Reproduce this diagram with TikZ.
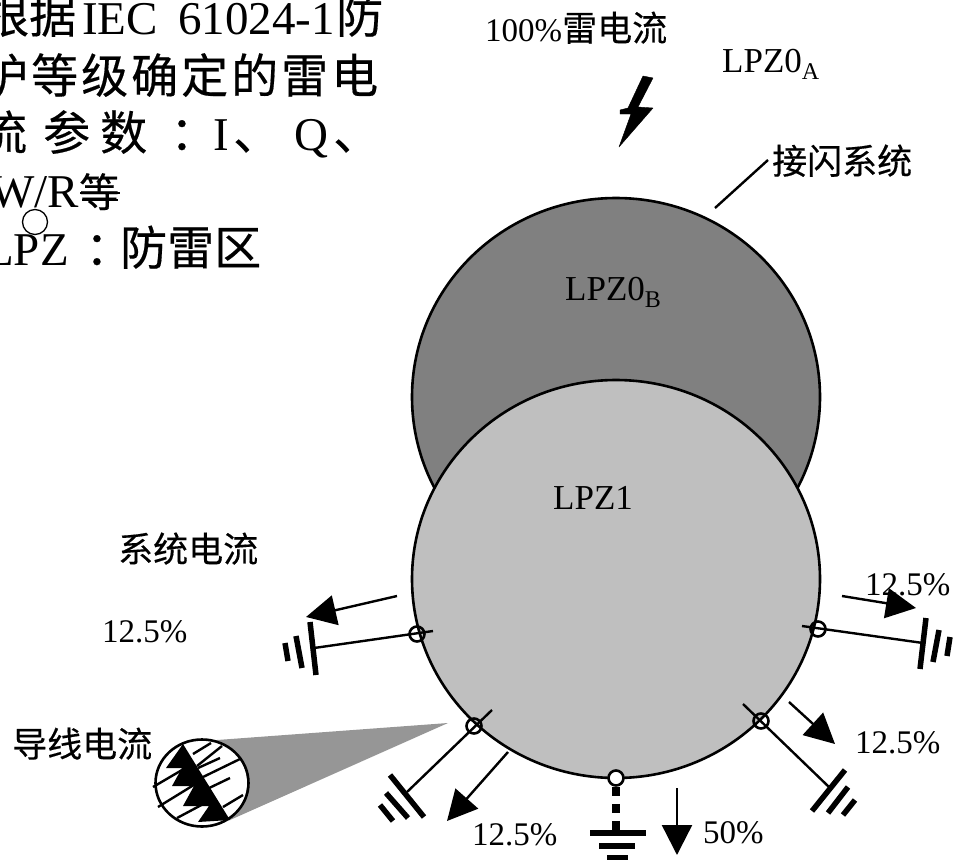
\documentclass[tikz,border=0pt]{standalone}
\usepackage{fontspec}
\setmainfont{Liberation Serif}
\newfontfamily\cjkfont[FakeBold=0.35]{Noto Sans CJK SC}
\usetikzlibrary{arrows.meta,shapes.geometric}
\newcommand{\zonesub}[1]{\raisebox{-7pt}{\fontsize{24}{24}\selectfont #1}}
\tikzset{
	bigtext/.style={anchor=base west,inner sep=0pt,font=\fontsize{47}{50}\selectfont},
	smalltext/.style={anchor=base west,inner sep=0pt,font=\fontsize{33}{36}\selectfont},
	zonetext/.style={anchor=base west,inner sep=0pt,font=\fontsize{35}{38}\selectfont},
	hantext/.style={anchor=base west,inner sep=0pt,font=\fontsize{35}{38}\selectfont\cjkfont},
	zone/.style={draw,line width=2.6pt,ellipse,minimum width=408pt,minimum height=398pt,inner sep=0pt},
	current/.style={line width=2.4pt,-{Triangle[length=30pt,width=30pt]}},
	lead/.style={line width=2.4pt},
	plate/.style={line width=5.5pt},
	hatch/.style={line width=2.4pt},
	contact/.style={circle,draw,line width=2.6pt,minimum size=15pt,inner sep=0pt}
}
\begin{document}
\begin{tikzpicture}[x=1pt,y=-1pt]
	\useasboundingbox (0,0) rectangle (954,860);
	\clip (0,0) rectangle (954,860);

	% notes at the top left
	\node[bigtext] (noteA) at (-18,33) {\cjkfont 根据};
	\node[bigtext] (noteB) at (82,34) {IEC};
	\node[bigtext] (noteC) at (178,34) {61024-1};
	\node[bigtext] (noteD) at (336,33) {\cjkfont 防};
	\foreach \c [count=\i] in {护,等,级,确,定,的,雷,电}
		\node[bigtext] (line\i) at (-69+50*\i,93) {\cjkfont\c};
	\node[bigtext] (noteE) at (-20,150) {\cjkfont 流};
	\node[bigtext] (noteF) at (43,150) {\cjkfont 参};
	\node[bigtext] (noteG) at (100,150) {\cjkfont 数};
	\node[bigtext] (noteH) at (170,150) {\cjkfont ：};
	\node[bigtext] (noteI) at (213,150) {I};
	\node[bigtext] (noteJ) at (233,150) {\cjkfont 、};
	\node[bigtext] (noteK) at (294,150) {Q};
	\node[bigtext] (noteL) at (333,150) {\cjkfont 、};
	\node[bigtext] (noteM) at (-10,207) {W/R};
	\node[anchor=base west,inner sep=0pt,font=\fontsize{40}{42}\selectfont\cjkfont] (noteN) at (79,207) {等};
	\draw[line width=1.5pt] (80,193) -- (120,193);
	\draw[line width=1.5pt] (82,200) -- (118,200);
	\node[bigtext] (noteO) at (-15,265) {LPZ};
	\node[bigtext] (noteP) at (85,265) {\cjkfont ：};
	\node[bigtext] (noteQ) at (120,265) {\cjkfont 防雷区};
	\node[circle,draw,line width=1.3pt,minimum size=25pt,inner sep=0pt] (noteR) at (35,222) {};

	% zones
	\node[zone,fill=black!50] (zoneB) at (616,397) {};
	\node[zone,fill=black!25] (zoneA) at (616,579) {};
	\node[zonetext] (lpzB) at (565,300) {LPZ0\zonesub{B}};
	\node[zonetext] (lpzA) at (553,509) {LPZ1};
	\node[zonetext] (lpzO) at (722,72) {LPZ0\zonesub{A}};

	% lightning
	\fill[draw,line width=.4pt,line join=round] (643,76) -- (653,78) -- (638,107) -- (653,108) -- (619,147) -- (631,114) -- (620,114) -- (620,110) -- (628,108) -- cycle;
	\node[smalltext] (hundred) at (485,41) {100\%{\cjkfont\fontsize{35}{38}\selectfont 雷电流}};
	\node[hantext] (rod) at (772,174) {接闪系统};
	\coordinate (rodA) at (768,160);
	\coordinate (rodB) at (715,208);
	\draw[lead] (rodA) -- (rodB);

	% left earth
	\coordinate (leftA) at (433,631);
	\coordinate (leftB) at (314,648);
	\draw[lead] (leftA) -- (leftB);
	\node[contact] (leftC) at (417,634) {};
	\draw[plate] (310,622) -- (316,675);
	\draw[plate] (296,636) -- (302,668);
	\draw[plate] (285,643) -- (288,661);
	\coordinate (leftD) at (397,596);
	\coordinate (leftE) at (306,617);
	\draw[current] (leftD) -- (leftE);
	\node[hantext] (sysCur) at (118,562) {系统电流};
	\node[smalltext] (leftP) at (102,642) {12.5\%};

	% right earth
	\node[smalltext] (rightP) at (865,595) {12.5\%};
	\coordinate (rightA) at (802,626);
	\coordinate (rightB) at (923,643);
	\draw[lead] (rightA) -- (rightB);
	\node[contact] (rightC) at (818,629) {};
	\draw[plate] (926,618) -- (920,669);
	\draw[plate] (939,630) -- (933,662);
	\draw[plate] (950,637) -- (947,656);
	\coordinate (rightD) at (842,596);
	\coordinate (rightE) at (916,608);
	\draw[current] (rightD) -- (rightE);

	% lower right earth
	\coordinate (lowRA) at (743,704);
	\coordinate (lowRB) at (829,787);
	\draw[lead] (lowRA) -- (lowRB);
	\node[contact] (lowRC) at (761,721) {};
	\draw[plate] (845,770) -- (812,811);
	\draw[plate] (848,787) -- (828,813);
	\draw[plate] (855,800) -- (843,815);
	\coordinate (lowRD) at (789,702);
	\coordinate (lowRE) at (835,744);
	\draw[current] (lowRD) -- (lowRE);
	\node[smalltext] (lowRP) at (855,753) {12.5\%};

	% lower left earth
	\coordinate (lowLA) at (492,710);
	\coordinate (lowLB) at (407,792);
	\draw[lead] (lowLA) -- (lowLB);
	\node[contact] (lowLC) at (474,726) {};
	\draw[plate] (390,775) -- (424,817);
	\draw[plate] (386,793) -- (408,818);
	\draw[plate] (380,805) -- (393,821);
	\coordinate (lowLD) at (508,752);
	\coordinate (lowLE) at (447,821);
	\draw[current] (lowLD) -- (lowLE);
	\node[smalltext] (lowLP) at (472,845) {12.5\%};

	% bottom earth
	\node[contact,fill=white] (botC) at (616,778) {};
	\coordinate (botA) at (616,830);
	\draw[line width=7.5pt,dash pattern=on 9pt off 8pt] (botC.south) -- (botA);
	\draw[plate] (590,833) -- (646,833);
	\draw[plate] (599,846) -- (635,846);
	\draw[plate] (607,858) -- (628,858);
	\coordinate (botD) at (677,788);
	\coordinate (botE) at (677,855);
	\draw[current] (botD) -- (botE);
	\node[smalltext] (botP) at (703,843) {50\%};

	% wire section
	\fill[black!41] (448,723) -- (217,740) -- (230,820) -- cycle;
	\node[hantext] (wireCur) at (12,757) {导线电流};
	\node[circle,fill=white,minimum size=90pt,inner sep=0pt] (wire) at (202,783) {};
	\draw[hatch] (193,754) -- (211,743);
	\draw[hatch] (197,766) -- (222,746);
	\draw[hatch] (198,768) -- (220,758);
	\draw[hatch] (203,777) -- (240,759);
	\draw[hatch] (205,790) -- (230,778);
	\draw[hatch] (153,787) -- (182,770);
	\draw[hatch] (158,807) -- (197,783);
	\draw[hatch] (177,818) -- (207,802);
	\draw[hatch] (223,807) -- (243,795);
	\fill (183,744) -- (230,820) -- (198,822) -- (209,806) -- (183,806) -- (194,786) -- (172,786) -- (182,768) -- (166,768) -- cycle;
	\node[ellipse,draw,line width=2.6pt,minimum width=93pt,minimum height=87pt,inner sep=0pt] (wireRim) at (202,783) {};
\end{tikzpicture}
\end{document}
